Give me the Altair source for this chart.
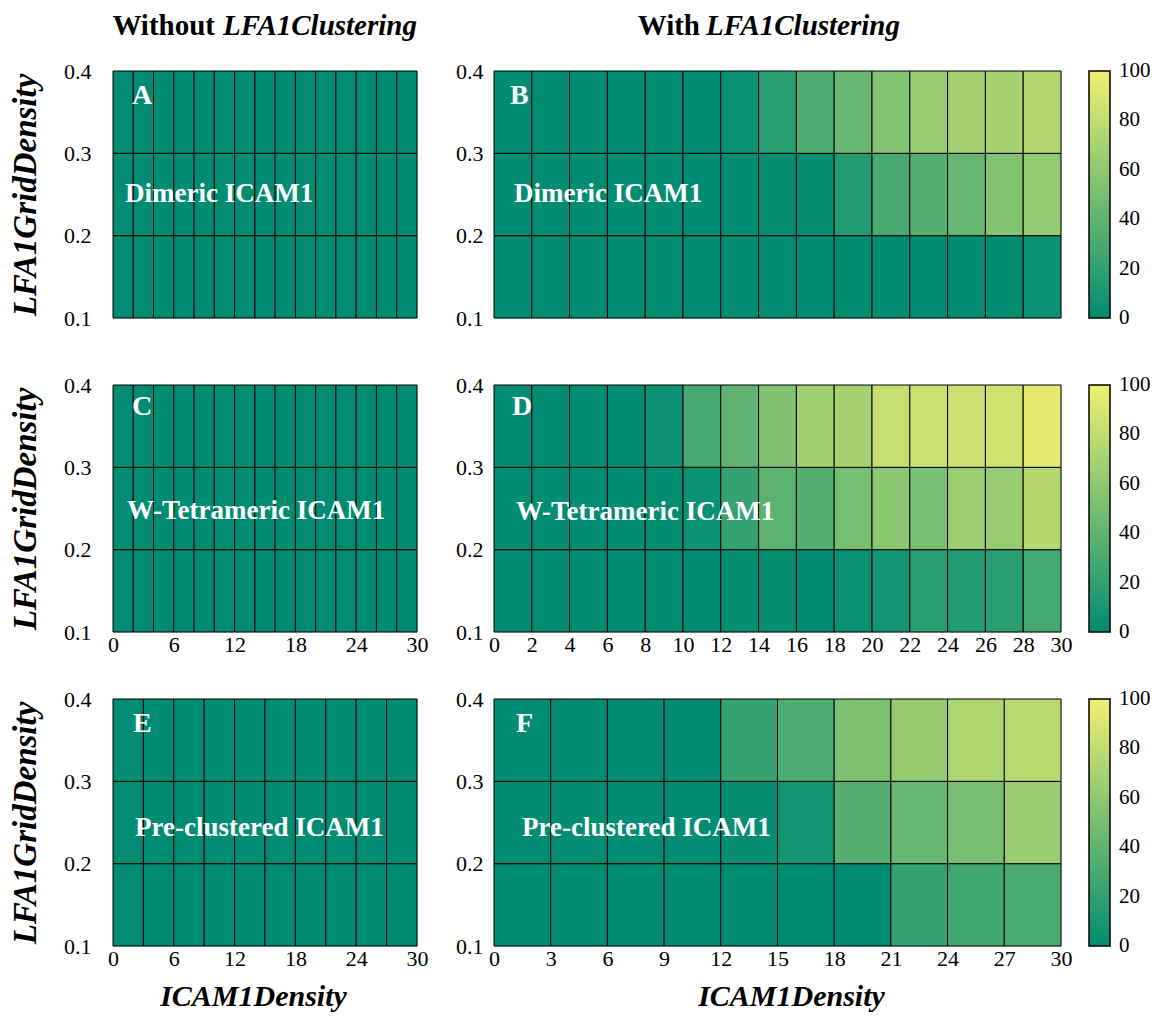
import altair as alt
import pandas as pd

FONT = "Liberation Serif"
COLOR_RANGE = ["#008c72", "#f0f070"]

# LFA1GridDensity bins (bottom edge, top edge)
grid_lo = [0.1, 0.2, 0.3]
grid_hi = [0.2, 0.3, 0.4]

# ICAM1Density bin edges
edges_2 = [0, 2, 4, 6, 8, 10, 12, 14, 16, 18, 20, 22, 24, 26, 28, 30]
edges_3 = [0, 3, 6, 9, 12, 15, 18, 21, 24, 27, 30]

# tick labels
ticks_6 = [0, 6, 12, 18, 24, 30]
ticks_2 = [0, 2, 4, 6, 8, 10, 12, 14, 16, 18, 20, 22, 24, 26, 28, 30]
ticks_3 = [0, 3, 6, 9, 12, 15, 18, 21, 24, 27, 30]
cbar_ticks = [0, 20, 40, 60, 80, 100]
y_ticks = [0.1, 0.2, 0.3, 0.4]

# values (rows: top 0.3-0.4, middle 0.2-0.3, bottom 0.1-0.2)
A_top = [0, 0, 0, 0, 0, 0, 0, 0, 0, 0, 0, 0, 0, 0, 0]
A_mid = [0, 0, 0, 0, 0, 0, 0, 0, 0, 0, 0, 0, 0, 0, 0]
A_bot = [0, 0, 0, 0, 0, 0, 0, 0, 0, 0, 0, 0, 0, 0, 0]

B_top = [1, 1, 1, 1, 1, 1, 4, 17, 32, 43, 55, 64, 69, 70, 75]
B_mid = [1, 1, 1, 1, 1, 1, 1, 2, 2, 14, 30, 35, 43, 55, 61]
B_bot = [1, 1, 1, 1, 1, 1, 1, 1, 1, 1, 1, 1, 1, 1, 4]

C_top = [0, 0, 0, 0, 0, 0, 0, 0, 0, 0, 0, 0, 0, 0, 0]
C_mid = [0, 0, 0, 0, 0, 0, 0, 0, 0, 0, 0, 0, 0, 0, 0]
C_bot = [0, 0, 0, 0, 0, 0, 0, 0, 0, 0, 0, 0, 0, 0, 0]

D_top = [1, 1, 1, 1, 5, 29, 40, 53, 68, 69, 82, 84, 85, 86, 95]
D_mid = [1, 1, 1, 1, 1, 4, 22, 38, 35, 50, 58, 51, 65, 63, 76]
D_bot = [1, 1, 1, 1, 1, 1, 2, 3, 1, 4, 8, 17, 14, 18, 28]

E_top = [0, 0, 0, 0, 0, 0, 0, 0, 0, 0]
E_mid = [0, 0, 0, 0, 0, 0, 0, 0, 0, 0]
E_bot = [0, 0, 0, 0, 0, 0, 0, 0, 0, 0]

F_top = [1, 1, 1, 1, 22, 32, 52, 62, 73, 77]
F_mid = [1, 1, 1, 1, 2, 8, 35, 43, 50, 64]
F_bot = [1, 1, 1, 1, 1, 1, 0, 22, 27, 31]


def table(edges, top, mid, bot):
    rows = []
    for r, vals in enumerate([bot, mid, top]):
        for j, v in enumerate(vals):
            rows.append({"x0": edges[j], "x1": edges[j + 1],
                         "y0": grid_lo[r], "y1": grid_hi[r], "v": v})
    return pd.DataFrame(rows)


def text_layer(txt, x, y, size, align="left", style="normal", color="white"):
    return alt.Chart(pd.DataFrame({"t": [txt]})).mark_text(
        font=FONT, fontSize=size, fontWeight="bold", fontStyle=style,
        color=color, align=align, baseline="alphabetic"
    ).encode(x=alt.value(x), y=alt.value(y), text="t:N")


def panel(edges, top, mid, bot, width, xticks, letter, letter_xy, label, label_xy,
          left=False, xtitle_x=None, legend=False, head=None):
    if xticks is None:
        xaxis = alt.Axis(labels=False, ticks=False, domain=False, grid=False, title=None)
    else:
        xaxis = alt.Axis(values=xticks, format="d", labelFont=FONT, labelFontSize=22,
                         labelColor="black", labelPadding=2, ticks=False, tickSize=0,
                         domain=False, grid=False, labelFlush=False,
                         title="ICAM1Density" if xtitle_x is not None else None,
                         titleFont=FONT, titleFontSize=30, titleFontStyle="italic",
                         titleFontWeight="bold", titleColor="black", titlePadding=12,
                         **({"titleX": xtitle_x} if xtitle_x is not None else {}))
    yaxis = alt.Axis(values=y_ticks, format=".1f", labelFont=FONT, labelFontSize=22,
                     labelColor="black", labelPadding=22 if left else 11,
                     ticks=False, tickSize=0,
                     domain=False, grid=False, labelFlush=False,
                     title="LFA1GridDensity" if left else None,
                     titleFont=FONT, titleFontSize=33, titleFontStyle="italic",
                     titleFontWeight="bold", titleColor="black", titlePadding=21)
    if legend:
        leg = alt.Legend(values=cbar_ticks, title=None, orient="right", direction="vertical",
                         gradientLength=247, gradientThickness=21, offset=28, padding=0,
                         labelFont=FONT, labelFontSize=21, labelColor="black", labelOffset=9,
                         gradientStrokeColor="black", gradientStrokeWidth=1.5)
    else:
        leg = None
    rect = alt.Chart(table(edges, top, mid, bot)).mark_rect(
        stroke="black", strokeWidth=1
    ).encode(
        x=alt.X("x0:Q", scale=alt.Scale(domain=[0, 30], nice=False, zero=False), axis=xaxis),
        x2="x1:Q",
        y=alt.Y("y0:Q", scale=alt.Scale(domain=[0.1, 0.4], nice=False, zero=False), axis=yaxis),
        y2="y1:Q",
        color=alt.Color("v:Q", scale=alt.Scale(domain=[-0.01, 100.01], range=COLOR_RANGE,
                                                nice=False, interpolate="rgb"), legend=leg),
    )
    layers = [rect,
              text_layer(letter, letter_xy[0], letter_xy[1], 28),
              text_layer(label, label_xy[0], label_xy[1], 27)]
    if head is not None:
        (w1, x1), (w2, x2) = head
        layers.append(text_layer(w1, x1, -36, 29, align="right", color="black"))
        layers.append(text_layer(w2, x2, -36, 29, align="left", style="italic", color="black"))
    return alt.layer(*layers).properties(width=width, height=247)


LW, RW = 304, 567

pA = panel(edges_2, A_top, A_mid, A_bot, LW, None, "A", (19, 33), "Dimeric ICAM1", (12, 131),
           left=True, head=(("Without", 102), ("LFA1Clustering", 110)))
pB = panel(edges_2, B_top, B_mid, B_bot, RW, None, "B", (16, 33), "Dimeric ICAM1", (20, 131),
           legend=True, head=(("With", 206), ("LFA1Clustering", 212)))
pC = panel(edges_2, C_top, C_mid, C_bot, LW, ticks_6, "C", (19, 30), "W-Tetrameric ICAM1", (14, 134),
           left=True)
pD = panel(edges_2, D_top, D_mid, D_bot, RW, ticks_2, "D", (18, 30), "W-Tetrameric ICAM1", (22, 135),
           legend=True)
pE = panel(edges_3, E_top, E_mid, E_bot, LW, ticks_6, "E", (20, 33), "Pre-clustered ICAM1", (22, 137),
           left=True, xtitle_x=140)
pF = panel(edges_3, F_top, F_mid, F_bot, RW, ticks_3, "F", (22, 33), "Pre-clustered ICAM1", (28, 137),
           legend=True, xtitle_x=297)

chart = alt.concat(pA, pB, pC, pD, pE, pF, columns=2, spacing={"row": 67, "column": 77},
                   bounds="flush").resolve_scale(
    color="independent", x="independent", y="independent"
).resolve_legend(color="independent").properties(
    padding={"left": 0, "top": 3, "right": 0, "bottom": 5}
).configure_view(stroke="black", strokeWidth=1.5).configure(background="white")

chart.save("out.html", embed_options={"renderer": "svg", "actions": False})
